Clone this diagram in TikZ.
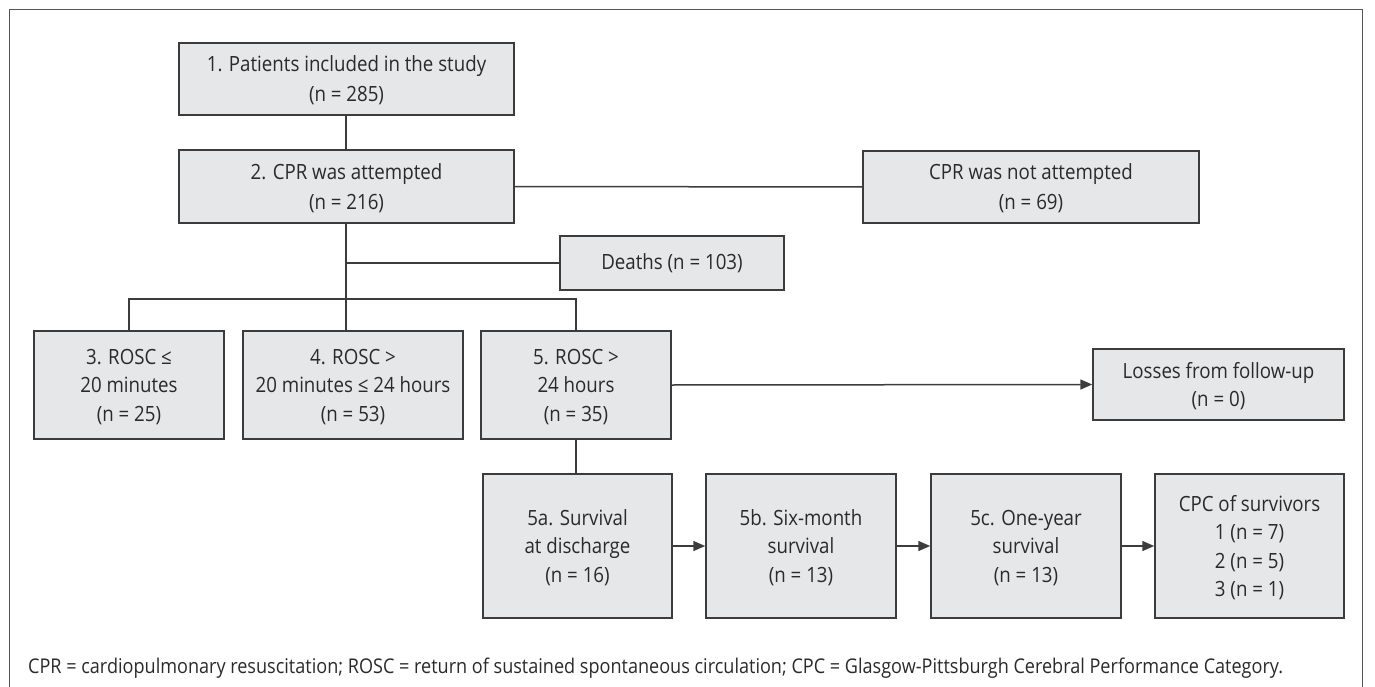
\documentclass[tikz,border=0pt]{standalone}
\usepackage{fontspec}
\setmainfont{Open Sans}[FakeStretch=0.89]
\usetikzlibrary{arrows.meta}
\definecolor{boxfill}{HTML}{E6E7E8}
\definecolor{boxline}{HTML}{3C3C3C}
\definecolor{frameline}{HTML}{555555}
\definecolor{txt}{HTML}{2A2A2A}
\tikzset{
  flowbox/.style={draw=boxline, line width=1.5pt, fill=boxfill, inner sep=0pt, align=center,
    font=\fontsize{21}{28.5}\selectfont, text=txt},
  lowered/.style={text depth=-1.5pt},
  conn/.style={draw=boxline, line width=1.5pt},
  arr/.style={conn, -{Triangle[length=12pt,width=10pt]}},
}
\begin{document}
\begin{tikzpicture}[x=1pt,y=-1pt]
\useasboundingbox (0,0) rectangle (1375,687);
\draw[frameline, line width=1pt] (9,687) -- (9,10) -- (1362,10) -- (1362,687);
% boxes
\node[flowbox, lowered, minimum width=335pt, minimum height=72pt] (b1) at (346.5,79) {1. Patients included in the study\\[1.5pt](n = 285)};
\node[flowbox, lowered, minimum width=335pt, minimum height=73pt] (b2) at (346.5,186.5) {2. CPR was attempted\\[1.5pt](n = 216)};
\node[flowbox, lowered, minimum width=336pt, minimum height=72pt] (bn) at (1031,187) {CPR was not attempted\\[1.5pt](n = 69)};
\node[flowbox, minimum width=224pt, minimum height=54pt] (dth) at (672,263) {Deaths (n = 103)};
\node[flowbox, lowered, minimum width=190pt, minimum height=108pt] (b3) at (129,385) {3. ROSC ≤\\20 minutes\\(n = 25)};
\node[flowbox, lowered, minimum width=220pt, minimum height=108pt] (b4) at (353,385) {4. ROSC >\\20 minutes ≤ 24 hours\\(n = 53)};
\node[flowbox, lowered, minimum width=190pt, minimum height=108pt] (b5) at (576,385) {5. ROSC >\\24 hours\\(n = 35)};
\node[flowbox, lowered, minimum width=251pt, minimum height=71pt] (loss) at (1218.5,384.5) {Losses from follow-up\\(n = 0)};
\node[flowbox, lowered, minimum width=189pt, minimum height=144pt] (b5a) at (577.5,546) {5a. Survival\\at discharge\\(n = 16)};
\node[flowbox, lowered, minimum width=190pt, minimum height=144pt] (b5b) at (801,546) {5b. Six-month\\survival\\(n = 13)};
\node[flowbox, lowered, minimum width=190pt, minimum height=144pt] (b5c) at (1026,546) {5c. One-year\\survival\\(n = 13)};
\node[flowbox, lowered, minimum width=189pt, minimum height=144pt] (cpc) at (1249.5,546) {CPC of survivors\\1 (n = 7)\\2 (n = 5)\\3 (n = 1)};
% coordinates
\coordinate (split) at (346,299);
\coordinate (dsplit) at (346,263);
% connectors
\draw[conn] (b1.south -| split) -- (b2.north -| split);
\draw[conn] (b2.east) -- (bn.west);
\draw[conn] (b2.south -| split) -- (b4.north -| split);
\draw[conn] (dsplit) -- (dth.west);
\draw[conn] (b3.north) -- (b3.north |- split) -- (b5.north |- split) -- (b5.north);
\draw[arr] (b5.east) -- (loss.west);
\draw[conn] (b5.south) -- (b5.south |- b5a.north);
\draw[arr] (b5a.east) -- (b5b.west);
\draw[arr] (b5b.east) -- (b5c.west);
\draw[arr] (b5c.east) -- (cpc.west);
% footnote
\node[anchor=west, inner sep=0pt, font=\fontsize{20.3}{22}\selectfont, text=txt] (note) at (28,668) {CPR = cardiopulmonary resuscitation; ROSC = return of sustained spontaneous circulation; CPC = Glasgow-Pittsburgh Cerebral Performance Category.};
\end{tikzpicture}
\end{document}
